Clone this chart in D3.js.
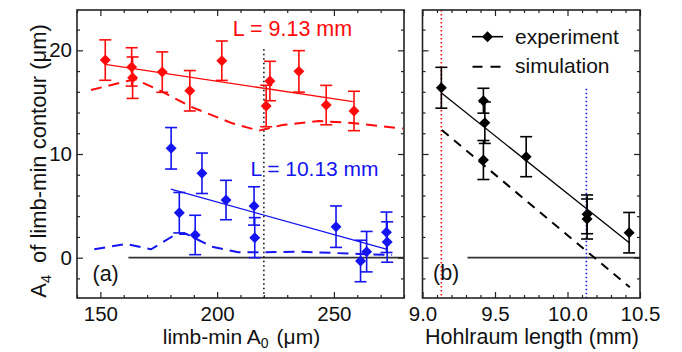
<!DOCTYPE html>
<html><head><meta charset="utf-8">
<script src="https://cdn.jsdelivr.net/npm/d3@7"></script>
<style>
html,body{margin:0;padding:0;background:#fff;}
svg{display:block;}
text{font-family:"Liberation Sans",Arial,Helvetica,sans-serif;}
</style></head>
<body>
<svg id="chart" width="682" height="352"></svg>
<script>
// ---------- DATA ----------
// Panel (a): limb-min A0 (µm) vs A4
const redX   = [152.1, 163.4, 163.8, 176.5, 188.3, 202.0, 221.0, 222.6, 235.0, 246.7, 258.6];
const redY   = [19.06, 18.40, 17.36, 17.90, 16.10, 19.00, 14.63, 17.04, 17.97, 14.72, 14.15];
const redErr = [1.95, 1.85, 2.00, 1.95, 1.95, 1.90, 2.00, 1.90, 2.00, 1.90, 1.90];
const redFitX = [152.1, 258.1];
const redFitY = [18.65, 15.05];
const redSimX = [146, 161.6, 165, 176.6, 188.7, 206.5, 217.9, 227.9, 243.6, 257.8, 279.5];
const redSimY = [16.17, 17.04, 17.2, 16.0, 14.56, 12.96, 12.25, 12.8, 13.18, 13.0, 12.45];

const blueX   = [180.3, 183.8, 190.6, 193.5, 203.8, 215.8, 216.1, 250.9, 261.4, 264.0, 272.5, 272.8];
const blueY   = [10.55, 4.34, 2.19, 8.14, 5.56, 4.99, 1.93, 2.99, -0.32, 0.58, 2.45, 1.51];
const blueErr = [2.0, 1.95, 1.9, 1.95, 1.9, 1.85, 1.93, 2.0, 2.0, 1.95, 1.95, 1.95];
const blueFitX = [180.2, 272.8];
const blueFitY = [6.6, 0.81];
const blueSimX = [147.4, 161.0, 171.7, 182.4, 186.7, 197.7, 209.1, 217.9, 235.0, 260.7, 274.9];
const blueSimY = [0.81, 1.32, 0.81, 2.26, 2.30, 1.06, 0.52, 0.52, 0.58, 0.36, 0.26];

const markerA0 = 220;       // dotted vertical in (a)

// Panel (b): Hohlraum length (mm) vs A4
const expL   = [9.13, 9.42, 9.43, 9.42, 9.715, 10.135, 10.135, 10.425];
const expA4  = [16.39, 15.14, 13.02, 9.42, 9.74, 4.18, 3.73, 2.41];
const expErr = [1.97, 1.20, 2.00, 1.88, 1.93, 1.87, 1.93, 1.95];
const expFitL = [9.133, 10.43];
const expFitA = [15.85, 1.39];
const simL = [9.133, 10.43];
const simA = [12.31, -2.86];
const lengthMarks = [9.13, 10.13];

const yTicksMajor = [0, 10, 20];
const xTicksA = [150, 200, 250];
const xTicksB = [9.0, 9.5, 10.0, 10.5];

// ---------- SETUP ----------
const svg = d3.select("#chart");
const FONT = '"Liberation Sans",Arial,Helvetica,sans-serif';
const RED = "#ff0a0a", BLUE = "#1414f0", BLACK = "#000";

const yTop = 10, yBot = 298;
const y = d3.scaleLinear().domain([-3.89, 23.89]).range([yBot, yTop]);
const xA = d3.scaleLinear().domain([140, 280]).range([77, 404]);
const xB = d3.scaleLinear().domain([9.0, 10.5]).range([422.5, 640]);

const diamond = d3.symbol().type(d3.symbolSquare).size(60);

function drawAxes(g, x, majorX, minorStep, labelsY, fmt) {
  const [x0, x1] = x.range();
  const xd = x.domain();
  const minorX = d3.range(Math.ceil(xd[0] / minorStep - 1e-9) * minorStep, xd[1] + 1e-9, minorStep)
    .map(v => +v.toFixed(3)).filter(v => !majorX.some(m => Math.abs(m - v) < 1e-6));
  const minorY = d3.range(-2, 24, 2).filter(v => !yTicksMajor.includes(v));

  g.append("g").attr("transform", `translate(0,${yBot})`)
    .call(d3.axisBottom(x).tickValues(majorX).tickSize(-6).tickPadding(8).tickFormat(fmt));
  g.append("g").attr("transform", `translate(0,${yBot})`)
    .call(d3.axisBottom(x).tickValues(minorX).tickSize(-3).tickFormat(""));
  g.append("g").attr("transform", `translate(0,${yTop})`)
    .call(d3.axisTop(x).tickValues(majorX).tickSize(-6).tickFormat(""));
  g.append("g").attr("transform", `translate(0,${yTop})`)
    .call(d3.axisTop(x).tickValues(minorX).tickSize(-3).tickFormat(""));
  g.append("g").attr("transform", `translate(${x0},0)`)
    .call(d3.axisLeft(y).tickValues(yTicksMajor).tickSize(-6).tickPadding(5).tickFormat(labelsY ? d3.format("d") : ""));
  g.append("g").attr("transform", `translate(${x0},0)`)
    .call(d3.axisLeft(y).tickValues(minorY).tickSize(-3).tickFormat(""));
  g.append("g").attr("transform", `translate(${x1},0)`)
    .call(d3.axisRight(y).tickValues(yTicksMajor).tickSize(-6).tickFormat(""));
  g.append("g").attr("transform", `translate(${x1},0)`)
    .call(d3.axisRight(y).tickValues(minorY).tickSize(-3).tickFormat(""));

  g.selectAll(".domain").remove();
  g.selectAll(".tick line").attr("stroke", "#222").attr("stroke-width", 1.2);
  g.selectAll(".tick text").attr("font-family", FONT).attr("font-size", 20.5).attr("fill", "#111");

  g.append("rect").attr("x", x0).attr("y", yTop).attr("width", x1 - x0).attr("height", yBot - yTop)
    .attr("fill", "none").attr("stroke", "#222").attr("stroke-width", 1.6);
}

function errPoints(g, x, xs, ys, es, color) {
  const data = xs.map((v, i) => ({x: v, y: ys[i], e: es[i]}));
  const eb = g.append("g").attr("stroke", color).attr("stroke-width", 1.6).attr("fill", "none");
  data.forEach(d => {
    const px = x(d.x);
    eb.append("line").attr("x1", px).attr("x2", px).attr("y1", y(d.y - d.e)).attr("y2", y(d.y + d.e));
    eb.append("line").attr("x1", px - 6).attr("x2", px + 6).attr("y1", y(d.y + d.e)).attr("y2", y(d.y + d.e));
    eb.append("line").attr("x1", px - 6).attr("x2", px + 6).attr("y1", y(d.y - d.e)).attr("y2", y(d.y - d.e));
  });
  g.append("g").selectAll("path").data(data).join("path")
    .attr("d", diamond)
    .attr("transform", d => `translate(${x(d.x)},${y(d.y)}) rotate(45)`)
    .attr("fill", color);
}

function line(g, x, xs, ys, color, width, dash) {
  const l = d3.line().x(d => x(d[0])).y(d => y(d[1]));
  const p = g.append("path").datum(xs.map((v, i) => [v, ys[i]]))
    .attr("d", l).attr("fill", "none").attr("stroke", color).attr("stroke-width", width);
  if (dash) p.attr("stroke-dasharray", dash);
  return p;
}

// ---------- PANEL (a) ----------
const gA = svg.append("g");
gA.append("line").attr("x1", xA(162)).attr("x2", xA(280)).attr("y1", y(0)).attr("y2", y(0))
  .attr("stroke", "#333").attr("stroke-width", 1.6);
gA.append("line").attr("x1", xA(markerA0)).attr("x2", xA(markerA0)).attr("y1", y(20.1)).attr("y2", yBot)
  .attr("stroke", "#111").attr("stroke-width", 1.6).attr("stroke-dasharray", "1.5,3");

line(gA, xA, redSimX, redSimY, RED, 2, "11,7");
line(gA, xA, blueSimX, blueSimY, BLUE, 2, "11,7");
line(gA, xA, redFitX, redFitY, RED, 1.3);
line(gA, xA, blueFitX, blueFitY, BLUE, 1.3);
errPoints(gA, xA, redX, redY, redErr, RED);
errPoints(gA, xA, blueX, blueY, blueErr, BLUE);

drawAxes(gA, xA, xTicksA, 10, true, d3.format("d"));

gA.append("text").attr("x", 292.5).attr("y", 36).attr("text-anchor", "middle")
  .attr("font-size", 21.5).attr("fill", RED).text("L = 9.13 mm");
gA.append("text").attr("x", 314.5).attr("y", 176).attr("text-anchor", "middle")
  .attr("font-size", 21).attr("fill", BLUE).text("L = 10.13 mm");
gA.append("text").attr("x", 92.5).attr("y", 281).attr("font-size", 21.5).attr("fill", "#111").text("(a)");

const xlA = gA.append("text").attr("x", 241.5).attr("y", 344).attr("text-anchor", "middle")
  .attr("font-size", 21).attr("fill", "#111");
xlA.append("tspan").text("limb-min A");
xlA.append("tspan").attr("font-size", 14).attr("dy", 4).text("0");
xlA.append("tspan").attr("dy", -4).attr("dx", 8).text("(μm)");

const ylA = gA.append("text").attr("transform", "translate(46,161) rotate(-90)").attr("text-anchor", "middle")
  .attr("font-size", 22).attr("fill", "#111");
ylA.append("tspan").text("A");
ylA.append("tspan").attr("font-size", 14.5).attr("dy", 5).text("4");
ylA.append("tspan").attr("dy", -5).attr("dx", 12).text("of limb-min contour (μm)");

// ---------- PANEL (b) ----------
const gB = svg.append("g");
gB.append("line").attr("x1", xB(9.31)).attr("x2", xB(10.5)).attr("y1", y(0)).attr("y2", y(0))
  .attr("stroke", "#333").attr("stroke-width", 1.6);
gB.append("line").attr("x1", xB(lengthMarks[0])).attr("x2", xB(lengthMarks[0])).attr("y1", yTop).attr("y2", yBot)
  .attr("stroke", RED).attr("stroke-width", 1.6).attr("stroke-dasharray", "1.5,2.5");
gB.append("line").attr("x1", xB(lengthMarks[1])).attr("x2", xB(lengthMarks[1])).attr("y1", y(16.3)).attr("y2", yBot)
  .attr("stroke", BLUE).attr("stroke-width", 1.6).attr("stroke-dasharray", "1.5,2.5");

line(gB, xB, simL, simA, BLACK, 2, "9,7");
line(gB, xB, expFitL, expFitA, BLACK, 1.3);
errPoints(gB, xB, expL, expA4, expErr, BLACK);

drawAxes(gB, xB, xTicksB, 0.1, false, d3.format(".1f"));

gB.append("text").attr("x", 433).attr("y", 280).attr("font-size", 21.5).attr("fill", "#111").text("(b)");
gB.append("text").attr("x", 532).attr("y", 344).attr("text-anchor", "middle")
  .attr("font-size", 21.5).attr("fill", "#111").text("Hohlraum length (mm)");

const lg = gB.append("g");
lg.append("line").attr("x1", 472).attr("x2", 503).attr("y1", 36.7).attr("y2", 36.7)
  .attr("stroke", BLACK).attr("stroke-width", 1.6);
lg.append("path").attr("d", diamond).attr("transform", "translate(487.5,36.7) rotate(45)").attr("fill", BLACK);
lg.append("text").attr("x", 515).attr("y", 44).attr("font-size", 21).attr("fill", "#111").text("experiment");
lg.append("line").attr("x1", 472.5).attr("x2", 503.5).attr("y1", 66.7).attr("y2", 66.7)
  .attr("stroke", BLACK).attr("stroke-width", 2).attr("stroke-dasharray", "10,8");
lg.append("text").attr("x", 515).attr("y", 73).attr("font-size", 21).attr("fill", "#111").text("simulation");
</script>
</body></html>
